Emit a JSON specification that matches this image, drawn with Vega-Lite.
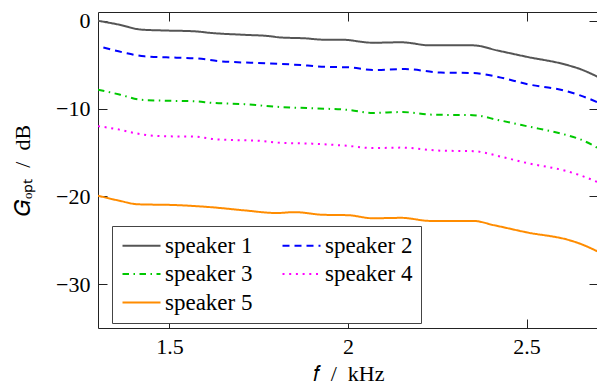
{
  "$schema": "https://vega.github.io/schema/vega-lite/v6.json",
  "width": 500,
  "height": 316,
  "autosize": {"type": "none"},
  "padding": {"left": 98, "top": 12, "right": 0, "bottom": 61},
  "background": "white",
  "config": {
    "view": {"stroke": "#222", "strokeWidth": 1},
    "font": "Liberation Serif, Times New Roman, Times, serif",
    "axis": {
      "grid": false,
      "domain": false,
      "tickColor": "#222",
      "tickWidth": 1,
      "labelFont": "Liberation Serif, Times New Roman, Times, serif",
      "labelFontSize": 22,
      "labelColor": "#000",
      "titleFont": "Liberation Serif, Times New Roman, Times, serif",
      "titleFontSize": 22,
      "titleFontWeight": "normal",
      "titleColor": "#000"
    },
    "legend": {
      "orient": "none",
      "legendX": 14,
      "legendY": 214,
      "direction": "horizontal",
      "columns": 2,
      "title": null,
      "symbolType": "M-2,0H2",
      "symbolSize": 361,
      "symbolStrokeWidth": 2,
      "symbolOffset": 10,
      "labelFont": "Liberation Serif, Times New Roman, Times, serif",
      "labelFontSize": 23,
      "labelColor": "#000",
      "labelOffset": 12,
      "fillColor": "white",
      "strokeColor": "#444",
      "padding": 8,
      "columnPadding": 25,
      "rowPadding": 4.5
    }
  },
  "data": {
    "values": [
      {"f": 1.30, "G": 0.0, "s": "speaker 1"},
      {"f": 1.36, "G": -0.45, "s": "speaker 1"},
      {"f": 1.42, "G": -1.0, "s": "speaker 1"},
      {"f": 1.48, "G": -1.1, "s": "speaker 1"},
      {"f": 1.57, "G": -1.2, "s": "speaker 1"},
      {"f": 1.62, "G": -1.4, "s": "speaker 1"},
      {"f": 1.71, "G": -1.6, "s": "speaker 1"},
      {"f": 1.78, "G": -1.75, "s": "speaker 1"},
      {"f": 1.81, "G": -1.9, "s": "speaker 1"},
      {"f": 1.88, "G": -2.0, "s": "speaker 1"},
      {"f": 1.93, "G": -2.15, "s": "speaker 1"},
      {"f": 1.98, "G": -2.15, "s": "speaker 1"},
      {"f": 2.07, "G": -2.5, "s": "speaker 1"},
      {"f": 2.15, "G": -2.45, "s": "speaker 1"},
      {"f": 2.23, "G": -2.8, "s": "speaker 1"},
      {"f": 2.35, "G": -2.8, "s": "speaker 1"},
      {"f": 2.42, "G": -3.4, "s": "speaker 1"},
      {"f": 2.50, "G": -4.1, "s": "speaker 1"},
      {"f": 2.61, "G": -5.0, "s": "speaker 1"},
      {"f": 2.65, "G": -5.5, "s": "speaker 1"},
      {"f": 2.70, "G": -6.4, "s": "speaker 1"},

      {"f": 1.315, "G": -3.05, "s": "speaker 2"},
      {"f": 1.37, "G": -3.6, "s": "speaker 2"},
      {"f": 1.43, "G": -4.05, "s": "speaker 2"},
      {"f": 1.52, "G": -4.2, "s": "speaker 2"},
      {"f": 1.58, "G": -4.3, "s": "speaker 2"},
      {"f": 1.64, "G": -4.6, "s": "speaker 2"},
      {"f": 1.78, "G": -4.85, "s": "speaker 2"},
      {"f": 1.85, "G": -5.0, "s": "speaker 2"},
      {"f": 1.94, "G": -5.25, "s": "speaker 2"},
      {"f": 2.00, "G": -5.3, "s": "speaker 2"},
      {"f": 2.07, "G": -5.6, "s": "speaker 2"},
      {"f": 2.16, "G": -5.5, "s": "speaker 2"},
      {"f": 2.26, "G": -5.9, "s": "speaker 2"},
      {"f": 2.35, "G": -5.95, "s": "speaker 2"},
      {"f": 2.42, "G": -6.4, "s": "speaker 2"},
      {"f": 2.50, "G": -7.2, "s": "speaker 2"},
      {"f": 2.61, "G": -8.0, "s": "speaker 2"},
      {"f": 2.65, "G": -8.5, "s": "speaker 2"},
      {"f": 2.70, "G": -9.3, "s": "speaker 2"},

      {"f": 1.30, "G": -7.85, "s": "speaker 3"},
      {"f": 1.36, "G": -8.4, "s": "speaker 3"},
      {"f": 1.42, "G": -9.0, "s": "speaker 3"},
      {"f": 1.48, "G": -9.1, "s": "speaker 3"},
      {"f": 1.57, "G": -9.17, "s": "speaker 3"},
      {"f": 1.62, "G": -9.35, "s": "speaker 3"},
      {"f": 1.71, "G": -9.5, "s": "speaker 3"},
      {"f": 1.80, "G": -9.8, "s": "speaker 3"},
      {"f": 1.90, "G": -9.97, "s": "speaker 3"},
      {"f": 2.00, "G": -10.15, "s": "speaker 3"},
      {"f": 2.07, "G": -10.5, "s": "speaker 3"},
      {"f": 2.15, "G": -10.4, "s": "speaker 3"},
      {"f": 2.24, "G": -10.7, "s": "speaker 3"},
      {"f": 2.35, "G": -10.75, "s": "speaker 3"},
      {"f": 2.42, "G": -11.3, "s": "speaker 3"},
      {"f": 2.50, "G": -12.0, "s": "speaker 3"},
      {"f": 2.61, "G": -13.0, "s": "speaker 3"},
      {"f": 2.65, "G": -13.5, "s": "speaker 3"},
      {"f": 2.70, "G": -14.5, "s": "speaker 3"},

      {"f": 1.30, "G": -12.0, "s": "speaker 4"},
      {"f": 1.36, "G": -12.4, "s": "speaker 4"},
      {"f": 1.41, "G": -12.85, "s": "speaker 4"},
      {"f": 1.48, "G": -13.15, "s": "speaker 4"},
      {"f": 1.57, "G": -13.2, "s": "speaker 4"},
      {"f": 1.63, "G": -13.5, "s": "speaker 4"},
      {"f": 1.76, "G": -13.7, "s": "speaker 4"},
      {"f": 1.81, "G": -13.9, "s": "speaker 4"},
      {"f": 1.90, "G": -14.0, "s": "speaker 4"},
      {"f": 2.00, "G": -14.25, "s": "speaker 4"},
      {"f": 2.07, "G": -14.5, "s": "speaker 4"},
      {"f": 2.15, "G": -14.45, "s": "speaker 4"},
      {"f": 2.26, "G": -14.8, "s": "speaker 4"},
      {"f": 2.35, "G": -14.85, "s": "speaker 4"},
      {"f": 2.43, "G": -15.5, "s": "speaker 4"},
      {"f": 2.50, "G": -16.2, "s": "speaker 4"},
      {"f": 2.61, "G": -17.1, "s": "speaker 4"},
      {"f": 2.65, "G": -17.6, "s": "speaker 4"},
      {"f": 2.70, "G": -18.4, "s": "speaker 4"},

      {"f": 1.30, "G": -19.93, "s": "speaker 5"},
      {"f": 1.36, "G": -20.5, "s": "speaker 5"},
      {"f": 1.41, "G": -20.9, "s": "speaker 5"},
      {"f": 1.52, "G": -21.0, "s": "speaker 5"},
      {"f": 1.62, "G": -21.25, "s": "speaker 5"},
      {"f": 1.71, "G": -21.6, "s": "speaker 5"},
      {"f": 1.80, "G": -21.9, "s": "speaker 5"},
      {"f": 1.85, "G": -21.8, "s": "speaker 5"},
      {"f": 1.93, "G": -22.1, "s": "speaker 5"},
      {"f": 2.00, "G": -22.15, "s": "speaker 5"},
      {"f": 2.07, "G": -22.5, "s": "speaker 5"},
      {"f": 2.15, "G": -22.45, "s": "speaker 5"},
      {"f": 2.23, "G": -22.8, "s": "speaker 5"},
      {"f": 2.35, "G": -22.8, "s": "speaker 5"},
      {"f": 2.41, "G": -23.3, "s": "speaker 5"},
      {"f": 2.50, "G": -24.1, "s": "speaker 5"},
      {"f": 2.62, "G": -25.0, "s": "speaker 5"},
      {"f": 2.65, "G": -25.4, "s": "speaker 5"},
      {"f": 2.70, "G": -26.3, "s": "speaker 5"}
    ]
  },
  "layer": [
    {
      "mark": {"type": "line", "strokeWidth": 2, "interpolate": "monotone", "clip": true},
      "encoding": {
        "x": {
          "field": "f", "type": "quantitative",
          "scale": {"domain": [1.3, 2.7], "nice": false, "zero": false},
          "axis": {"orient": "bottom", "values": [1.5, 2, 2.5], "labelExpr": "format(datum.value, '.1~f')", "tickSize": -9, "labelPadding": 17, "title": "𝑓\u00a0\u00a0/\u00a0\u00a0kHz", "titlePadding": 6}
        },
        "y": {
          "field": "G", "type": "quantitative",
          "scale": {"domain": [-35, 1], "nice": false, "zero": false},
          "axis": {"orient": "left", "values": [0, -10, -20, -30], "format": "d", "tickSize": -9, "labelPadding": 17, "title": "𝐺ₒₚₜ\u00a0\u00a0/\u00a0\u00a0dB", "titlePadding": 21}
        },
        "color": {
          "field": "s", "type": "nominal",
          "scale": {"domain": ["speaker 1", "speaker 2", "speaker 3", "speaker 4", "speaker 5"],
                    "range": ["#555555", "#0000ff", "#00c800", "#ff00ff", "#ff8c00"]}
        },
        "strokeDash": {
          "field": "s", "type": "nominal",
          "scale": {"domain": ["speaker 1", "speaker 2", "speaker 3", "speaker 4", "speaker 5"],
                    "range": [[1, 0], [7, 5], [6.5, 4.5, 1.5, 4.5], [2, 4.7], [1, 0]]}
        }
      }
    },
    {
      "mark": {"type": "point", "opacity": 0},
      "encoding": {
        "x": {"field": "f", "type": "quantitative",
              "axis": {"orient": "top", "values": [1.5, 2, 2.5], "labels": false, "tickSize": -9, "title": null}},
        "y": {"field": "G", "type": "quantitative",
              "axis": {"orient": "right", "values": [0, -10, -20, -30], "labels": false, "tickSize": -9, "title": null}}
      }
    }
  ]
}
